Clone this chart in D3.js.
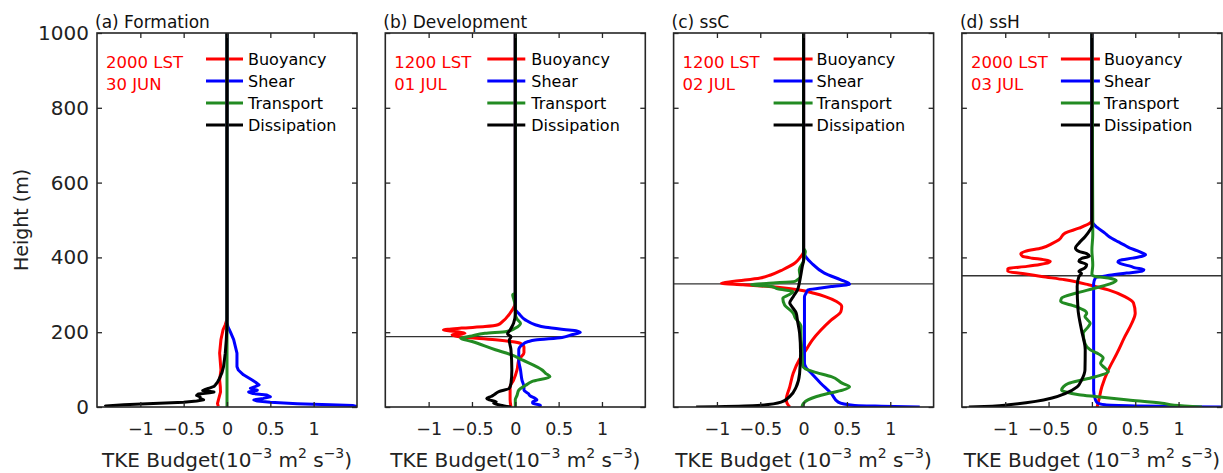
<!DOCTYPE html>
<html><head><meta charset="utf-8">
<script src="https://cdn.jsdelivr.net/npm/d3@7"></script>
<style>body{margin:0;background:#fff}svg{display:block}text{font-family:"DejaVu Sans",sans-serif}</style>
</head><body>
<script>
// ---------- data ----------
const panelTitles = ["(a) Formation", "(b) Development", "(c) ssC", "(d) ssH"];
const dateLines = [["2000 LST", "30 JUN"], ["1200 LST", "01 JUL"], ["1200 LST", "02 JUL"], ["2000 LST", "03 JUL"]];
const pblHeights = [null, 188, 329, 351];
const seriesNames = ["Buoyancy", "Shear", "Transport", "Dissipation"];
const heightTicks = [0, 200, 400, 600, 800, 1000];
const budgetTicks = [-1, -0.5, 0, 0.5, 1];
const xLabelSpace = ["", "", " ", " "];

// each point: [TKE budget (1e-3 m2 s-3), height (m)]
const buoyancyA = [[-0.10,2],[-0.11,9],[-0.096,22],[-0.075,40],[-0.077,54],[-0.085,72],[-0.07,99],[-0.085,144],[-0.07,180],[-0.046,206],[-0.02,220],[0,235],[0,1000]];
const shearA = [[1.5,1],[1.45,4],[1.19,6],[0.81,9],[0.5,13],[0.35,16],[0.31,19],[0.42,23],[0.5,27],[0.46,32],[0.3,36],[0.25,40],[0.35,45],[0.27,50],[0.33,55],[0.37,59],[0.33,66],[0.29,72],[0.19,86],[0.13,99],[0.115,108],[0.115,144],[0.077,180],[0.04,200],[0.01,215],[0,225],[0,1000]];
const transportA = [[0,0],[0,1000]];
const dissipationA = [[-1.41,1],[-1.4,3],[-1.19,6],[-0.92,9],[-0.5,13],[-0.35,16],[-0.27,19],[-0.31,23],[-0.31,27],[-0.35,31],[-0.33,35],[-0.2,38],[-0.15,40],[-0.28,44],[-0.25,47],[-0.21,50],[-0.15,55],[-0.135,59],[-0.11,66],[-0.096,72],[-0.058,92],[-0.04,108],[-0.02,144],[-0.008,180],[0,220],[0,1000]];

const buoyancyB = [[-0.05,0],[-0.06,20],[-0.06,54],[-0.02,72],[0.02,99],[0.04,126],[0.1,145],[0.1,160],[0.06,170],[-0.05,175],[-0.2,179],[-0.45,184],[-0.65,188],[-0.73,193],[-0.58,197],[-0.69,202],[-0.83,206],[-0.62,211],[-0.35,215],[-0.2,220],[-0.15,228],[-0.06,251],[-0.01,270],[0,280],[0,1000]];
const shearB = [[0.27,0],[0.29,5],[0.2,10],[0.2,14],[0.25,19],[0.23,23],[0.17,30],[0.15,36],[0.1,45],[0.1,54],[0.077,72],[0.06,99],[0.04,126],[0.04,153],[0.077,166],[0.15,175],[0.23,179],[0.54,186],[0.65,193],[0.75,199],[0.7,204],[0.62,206],[0.35,213],[0.23,220],[0.115,233],[0.04,250],[0,262],[0,1000]];
const transportB = [[0,0],[0,20],[0.02,31],[0.04,45],[0.12,58],[0.19,68],[0.4,81],[0.35,90],[0.31,99],[0.08,126],[-0.05,140],[-0.23,153],[-0.5,175],[-0.63,184],[-0.5,190],[-0.35,197],[-0.1,202],[0,211],[0.06,224],[0.02,235],[0,250],[0,269],[-0.02,290],[-0.03,300],[0,305],[0,1000]];
const dissipationB = [[-0.05,0],[-0.17,5],[-0.25,10],[-0.22,14],[-0.3,19],[-0.33,23],[-0.28,28],[-0.25,32],[-0.19,41],[-0.07,50],[-0.05,63],[-0.04,99],[-0.05,153],[-0.07,179],[-0.05,188],[-0.09,195],[-0.06,206],[-0.02,224],[0,250],[0,1000]];

const buoyancyC = [[-0.16,0],[-0.19,10],[-0.2,20],[-0.16,54],[-0.12,90],[-0.05,126],[0.03,153],[0.1,179],[0.2,206],[0.32,233],[0.43,255],[0.44,269],[0.38,282],[0.25,295],[0.12,304],[-0.05,313],[-0.3,320],[-0.7,327],[-0.95,331],[-0.8,336],[-0.5,345],[-0.38,353],[-0.24,367],[-0.1,385],[-0.04,400],[0,415],[0,1000]];
const shearC = [[1.34,0],[0.9,2],[0.59,4],[0.4,13],[0.32,36],[0.2,63],[0.09,90],[0.03,105],[0.01,117],[0.01,150],[0.01,224],[0.01,295],[0.03,305],[0.05,313],[0.2,318],[0.32,322],[0.53,328],[0.52,331],[0.43,340],[0.24,358],[0.09,385],[0.03,400],[0,415],[0,1000]];
const transportC = [[-0.02,0],[0,10],[0.05,19],[0.15,28],[0.28,36],[0.45,45],[0.53,54],[0.45,63],[0.32,81],[0.15,92],[0.05,99],[-0.01,110],[-0.02,153],[-0.03,190],[-0.03,215],[-0.1,240],[-0.12,251],[-0.22,273],[-0.24,291],[-0.17,300],[-0.12,309],[-0.3,316],[-0.37,322],[-0.6,327],[-0.4,331],[-0.1,336],[-0.07,340],[-0.04,349],[-0.05,367],[0,390],[0.01,405],[0.02,416],[0,425],[0,1000]];
const dissipationC = [[-1.24,0],[-1.0,1],[-0.53,4],[-0.26,13],[-0.16,28],[-0.085,54],[-0.046,90],[-0.035,144],[-0.046,197],[-0.07,230],[-0.085,251],[-0.14,270],[-0.16,278],[-0.12,295],[-0.07,313],[-0.05,331],[-0.035,349],[-0.015,376],[0,394],[0,1000]];

const buoyancyD = [[0.06,0],[0.08,19],[0.115,54],[0.19,99],[0.29,144],[0.38,188],[0.46,224],[0.5,251],[0.48,278],[0.38,295],[0.19,313],[-0.04,327],[-0.31,340],[-0.58,349],[-0.8,357],[-0.97,362],[-0.97,370],[-0.75,376],[-0.6,381],[-0.5,386],[-0.48,390],[-0.56,394],[-0.69,398],[-0.8,403],[-0.82,410],[-0.77,416],[-0.58,425],[-0.45,438],[-0.38,447],[-0.31,465],[-0.15,478],[-0.02,492],[0,500],[0,1000]];
const shearD = [[1.5,0],[1.0,1],[0.5,3],[0.15,6],[0.06,12],[0.04,20],[0.02,45],[0.02,150],[0.02,250],[0.02,330],[0.04,345],[0.2,352],[0.4,358],[0.58,363],[0.6,367],[0.5,372],[0.45,376],[0.35,382],[0.3,388],[0.32,392],[0.47,398],[0.58,403],[0.62,407],[0.58,412],[0.52,418],[0.44,425],[0.36,435],[0.3,442],[0.2,455],[0.15,465],[0.06,480],[0.01,492],[0,500],[0,1000]];
const transportD = [[1.27,0],[0.95,5],[0.81,10],[0.42,19],[0.2,24],[0.04,28],[-0.15,33],[-0.3,40],[-0.35,45],[-0.33,54],[-0.27,63],[-0.12,72],[0.04,81],[0.19,94],[0.15,104],[0.1,117],[0.13,131],[0.06,144],[-0.02,153],[-0.08,170],[-0.1,197],[-0.04,215],[-0.02,224],[-0.05,233],[-0.08,242],[-0.06,251],[-0.19,269],[-0.36,282],[-0.35,291],[-0.19,304],[0.04,318],[0.23,331],[0.28,338],[0.19,345],[0.04,349],[0,354],[0.01,380],[0,420],[0.01,460],[0.01,500],[0,1000]];
const dissipationD = [[-1.42,0],[-1.15,2],[-0.96,6],[-0.65,15],[-0.46,24],[-0.31,36],[-0.17,54],[-0.12,72],[-0.08,99],[-0.077,153],[-0.12,206],[-0.16,260],[-0.17,322],[-0.15,349],[-0.12,357],[-0.15,363],[-0.08,372],[-0.06,381],[-0.15,390],[-0.12,397],[-0.03,403],[-0.06,410],[-0.15,416],[-0.19,425],[-0.15,438],[-0.077,456],[-0.02,474],[0,483],[0,1000]];

const panelSeries = [
  [buoyancyA, shearA, transportA, dissipationA],
  [buoyancyB, shearB, transportB, dissipationB],
  [buoyancyC, shearC, transportC, dissipationC],
  [buoyancyD, shearD, transportD, dissipationD]
];

// ---------- style / layout ----------
const colors = ["#ff0000", "#0000ff", "#228b22", "#000000"];
const W = 1223, H = 473;
const plotTop = 33, plotBottom = 407, panelW = 260, firstLeft = 97, panelStep = 288.3;
const legendLineStart = [109, 102, 100, 99], legendLineEnd = [146, 140, 139, 138], legendTextX = [151, 146, 143, 142];
const axisColor = "#262626";

const svg = d3.select("body").append("svg").attr("width", W).attr("height", H);
const y = d3.scaleLinear().domain([0, 1000]).range([plotBottom, plotTop]);
const fmt = d => d < 0 ? "\u2212" + Math.abs(d) : String(d);

panelTitles.forEach((title, i) => {
  const L = firstLeft + i * panelStep;
  const x = d3.scaleLinear().domain([-1.5, 1.5]).range([L, L + panelW]);
  const g = svg.append("g");

  g.append("clipPath").attr("id", "clip" + i).append("rect")
    .attr("x", L).attr("y", plotTop).attr("width", panelW).attr("height", plotBottom - plotTop);

  // legend lines (under profiles)
  seriesNames.forEach((name, k) => {
    const ly = 59 + k * 22;
    g.append("line").attr("x1", L + legendLineStart[i]).attr("x2", L + legendLineEnd[i])
      .attr("y1", ly).attr("y2", ly).attr("stroke", colors[k]).attr("stroke-width", 3);
    g.append("text").attr("x", L + legendTextX[i]).attr("y", ly + 6)
      .attr("font-size", 16).attr("fill", "#000").text(name);
  });

  // date labels
  dateLines[i].forEach((t, k) => {
    g.append("text").attr("x", L + 9).attr("y", 68 + k * 22).attr("font-size", 16.5)
      .attr("fill", "#ff0000").text(t);
  });

  // PBL line
  if (pblHeights[i] !== null) {
    g.append("line").attr("x1", L).attr("x2", L + panelW)
      .attr("y1", y(pblHeights[i])).attr("y2", y(pblHeights[i]))
      .attr("stroke", "#333").attr("stroke-width", 1.3);
  }

  // profiles (drawn top-down so the curve is monotone in screen y)
  const line = d3.line().x(d => x(d[0])).y(d => y(d[1]))
    .curve(i === 0 ? d3.curveLinear : d3.curveMonotoneY);
  const pg = g.append("g").attr("clip-path", `url(#clip${i})`);
  panelSeries[i].forEach((s, k) => {
    pg.append("path").datum(s.slice().reverse()).attr("d", line).attr("fill", "none")
      .attr("stroke", colors[k]).attr("stroke-width", 3).attr("stroke-linejoin", "round");
  });

  // axes (ticks inward)
  const bx = g.append("g").attr("transform", `translate(0,${plotBottom})`)
    .call(d3.axisBottom(x).tickValues(budgetTicks).tickSize(-5).tickPadding(16).tickFormat(fmt));
  const tx = g.append("g").attr("transform", `translate(0,${plotTop})`)
    .call(d3.axisTop(x).tickValues(budgetTicks).tickSize(-5).tickFormat(""));
  const ly = g.append("g").attr("transform", `translate(${L},0)`)
    .call(d3.axisLeft(y).tickValues(heightTicks).tickSize(-5).tickPadding(8).tickFormat(i === 0 ? d3.format("d") : ""));
  const ry = g.append("g").attr("transform", `translate(${L + panelW},0)`)
    .call(d3.axisRight(y).tickValues(heightTicks).tickSize(-5).tickFormat(""));
  [bx, tx, ly, ry].forEach(a => {
    a.select(".domain").remove();
    a.selectAll(".tick line").attr("stroke", axisColor).attr("stroke-width", 1.3);
    a.selectAll("text").attr("font-family", "DejaVu Sans").attr("fill", "#222");
  });
  bx.selectAll("text").attr("font-size", 17.5);
  ly.selectAll("text").attr("font-size", 20);

  g.append("rect").attr("x", L).attr("y", plotTop).attr("width", panelW).attr("height", plotBottom - plotTop)
    .attr("fill", "none").attr("stroke", axisColor).attr("stroke-width", 1.6);

  // title
  g.append("text").attr("x", L - 2).attr("y", 28).attr("font-size", 17).attr("fill", "#111").text(title);

  // x label
  const xl = g.append("text").attr("x", L + panelW / 2).attr("y", 467).attr("text-anchor", "middle")
    .attr("font-size", 20).attr("fill", "#222");
  xl.append("tspan").text("TKE Budget" + xLabelSpace[i] + "(10");
  xl.append("tspan").attr("dy", -9).attr("font-size", 14).text("\u22123");
  xl.append("tspan").attr("dy", 9).text(" m");
  xl.append("tspan").attr("dy", -9).attr("font-size", 14).text("2");
  xl.append("tspan").attr("dy", 9).text(" s");
  xl.append("tspan").attr("dy", -9).attr("font-size", 14).text("\u22123");
  xl.append("tspan").attr("dy", 9).text(")");
});

svg.append("text").attr("transform", "translate(28,220) rotate(-90)").attr("text-anchor", "middle")
  .attr("font-size", 19).attr("fill", "#222").text("Height (m)");
</script>
</body></html>
